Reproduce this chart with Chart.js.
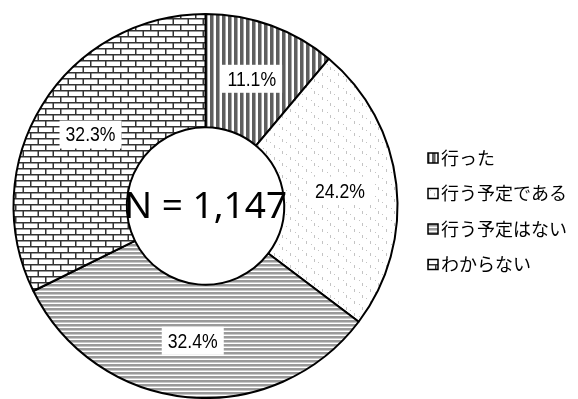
<!DOCTYPE html>
<html lang="ja">
<head>
<meta charset="utf-8">
<script src="https://cdn.jsdelivr.net/npm/chart.js@4/dist/chart.umd.min.js"></script>
<style>
  html, body { margin: 0; padding: 0; background: #fff; }
  #wrap { width: 578px; height: 399px; }
</style>
</head>
<body>
<div id="wrap"><canvas id="surveyChart" width="578" height="399"></canvas></div>
<script>
// 回答の内訳 (%)
const categories = ['行った', '行う予定である', '行う予定はない', 'わからない'];
const shares = [11.1, 24.2, 32.4, 32.3];
const totalLabel = 'N = 1,147';

// 白黒印刷向けの塗りパターン
function makePattern(w, h, paint) {
    const c = document.createElement('canvas');
    c.width = w;
    c.height = h;
    const g = c.getContext('2d');
    g.fillStyle = '#fff';
    g.fillRect(0, 0, w, h);
    paint(g);
    return g.createPattern(c, 'repeat');
}

const patterns = [
    // 縦線
    makePattern(6, 6, g => {
        g.fillStyle = '#5e5e5e';
        g.fillRect(0, 0, 3, 6);
        g.fillStyle = '#a8a8a8';
        g.fillRect(3, 0, 1, 6);
    }),
    // 点描（まばらな短い縦線）
    makePattern(16, 12, g => {
        g.fillStyle = '#c4c4c4';
        g.fillRect(2, 1, 1, 3);
        g.fillRect(10, 7, 1, 3);
        g.fillRect(7, 4, 1, 1);
        g.fillRect(14, 10, 1, 1);
    }),
    // 横線
    makePattern(8, 4, g => {
        g.fillStyle = '#9a9a9a';
        g.fillRect(0, 0, 8, 2);
        g.fillStyle = '#c8c8c8';
        g.fillRect(0, 2, 8, 1);
    }),
    // レンガ
    makePattern(15, 12, g => {
        g.fillStyle = '#333';
        g.fillRect(0, 0, 15, 1.5);
        g.fillRect(0, 6, 15, 1.5);
        g.fillRect(0, 0, 1.5, 6);
        g.fillRect(7.5, 6, 1.5, 6);
    })
];

// 各扇形の中心にパーセント表示（白地・縦長の字形）
const sliceLabels = {
    id: 'sliceLabels',
    afterDatasetsDraw(chart) {
        const ctx = chart.ctx;
        const meta = chart.getDatasetMeta(0);
        const squeeze = 0.84;
        ctx.save();
        ctx.font = '21px "Liberation Sans", Arial, sans-serif';
        ctx.textAlign = 'center';
        ctx.textBaseline = 'middle';
        meta.data.forEach((arc, i) => {
            const p = arc.tooltipPosition();
            const text = shares[i].toFixed(1) + '%';
            const w = ctx.measureText(text).width * squeeze + 12;
            const h = 28;
            ctx.fillStyle = '#fff';
            ctx.fillRect(p.x - w / 2, p.y - h / 2, w, h);
            ctx.save();
            ctx.translate(p.x, p.y + 1);
            ctx.scale(squeeze, 1);
            ctx.fillStyle = '#000';
            ctx.fillText(text, 0, 0);
            ctx.restore();
        });
        ctx.restore();
    }
};

// ドーナツ中央のサンプル数
const centerText = {
    id: 'centerText',
    afterDatasetsDraw(chart) {
        const arc = chart.getDatasetMeta(0).data[0];
        const ctx = chart.ctx;
        ctx.save();
        ctx.font = '37px "Noto Sans", "Open Sans", sans-serif';
        ctx.textAlign = 'center';
        ctx.textBaseline = 'middle';
        ctx.fillStyle = '#000';
        ctx.fillText(totalLabel, arc.x, arc.y + 1);
        ctx.restore();
    }
};

// 右側の凡例
const sideLegend = {
    id: 'sideLegend',
    afterDraw(chart) {
        const ctx = chart.ctx;
        const x0 = 428, y0 = 158, step = 35.5, box = 10;
        ctx.save();
        ctx.font = '18px "Noto Sans CJK JP", sans-serif';
        ctx.textBaseline = 'middle';
        chart.data.labels.forEach((label, i) => {
            const y = y0 + i * step;
            ctx.fillStyle = patterns[i];
            ctx.fillRect(x0, y - box / 2, box, box);
            ctx.strokeStyle = '#000';
            ctx.lineWidth = 1.5;
            ctx.strokeRect(x0, y - box / 2, box, box);
            ctx.fillStyle = '#000';
            ctx.fillText(label, x0 + 13, y);
        });
        ctx.restore();
    }
};

new Chart(document.getElementById('surveyChart'), {
    type: 'doughnut',
    data: {
        labels: categories,
        datasets: [{
            data: shares,
            backgroundColor: patterns,
            borderColor: '#000',
            borderWidth: 2
        }]
    },
    options: {
        responsive: false,
        animation: false,
        cutout: '41%',
        layout: { padding: { left: 12, top: 13, right: 179, bottom: 0 } },
        plugins: {
            legend: { display: false },
            tooltip: { enabled: false }
        }
    },
    plugins: [sliceLabels, centerText, sideLegend]
});
</script>
</body>
</html>
